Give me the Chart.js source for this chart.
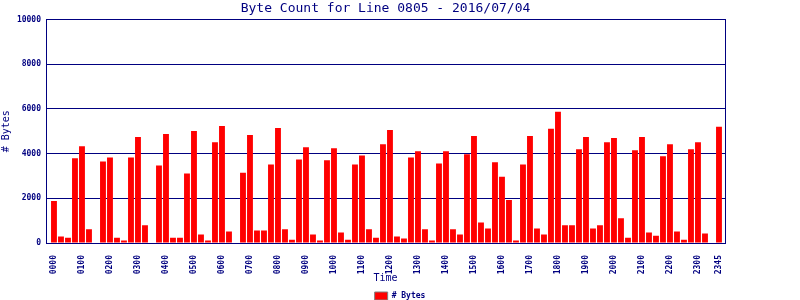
<!DOCTYPE html>
<html lang="en">
<head>
    <meta charset="UTF-8">
    <title>Byte Count for Line 0805</title>
    <script src="https://cdn.jsdelivr.net/npm/chart.js"></script>
    <style>
        body {
            margin: 0;
            background-color: #ffffff;
        }
    </style>
</head>
<body>
    <canvas id="graficoBytes" width="800" height="300"></canvas>

    <script>
// Time slots, every 15 minutes
const horas = [
    '0000', '0015', '0030', '0045', '0100', '0115', '0130', '0145',
    '0200', '0215', '0230', '0245', '0300', '0315', '0330', '0345',
    '0400', '0415', '0430', '0445', '0500', '0515', '0530', '0545',
    '0600', '0615', '0630', '0645', '0700', '0715', '0730', '0745',
    '0800', '0815', '0830', '0845', '0900', '0915', '0930', '0945',
    '1000', '1015', '1030', '1045', '1100', '1115', '1130', '1145',
    '1200', '1215', '1230', '1245', '1300', '1315', '1330', '1345',
    '1400', '1415', '1430', '1445', '1500', '1515', '1530', '1545',
    '1600', '1615', '1630', '1645', '1700', '1715', '1730', '1745',
    '1800', '1815', '1830', '1845', '1900', '1915', '1930', '1945',
    '2000', '2015', '2030', '2045', '2100', '2115', '2130', '2145',
    '2200', '2215', '2230', '2245', '2300', '2315', '2330', '2345'
];

// Bytes per slot
const bytes = [
    1880, 290, 240, 3790, 4330, 610, 0, 3650,
    3830, 240, 110, 3830, 4740, 790, 0, 3470,
    4880, 240, 240, 3110, 5010, 380, 110, 4510,
    5240, 520, 0, 3150, 4830, 560, 560, 3510,
    5150, 610, 150, 3740, 4290, 380, 110, 3700,
    4240, 470, 150, 3510, 3920, 610, 240, 4420,
    5060, 290, 200, 3830, 4110, 610, 110, 3560,
    4110, 610, 380, 3970, 4790, 920, 650, 3610,
    2970, 1920, 110, 3510, 4790, 650, 380, 5110,
    5880, 790, 790, 4200, 4740, 650, 790, 4510,
    4700, 1110, 240, 4150, 4740, 470, 330, 3880,
    4420, 520, 150, 4200, 4510, 420, 0, 5200
];

const yTicks = [0, 2000, 4000, 6000, 8000, 10000];

const azul = '#000080';
const fuenteMono = "'DejaVu Sans Mono', monospace";

// slot index -> bar, so the x axis can leave a little room at both ends
const puntos = bytes.map((v, i) => ({ x: i, y: v }));

// label only the full hours and the last slot
const xTicks = horas
    .map((h, i) => (h.endsWith('00') || i === horas.length - 1) ? i : -1)
    .filter(i => i >= 0);

new Chart(document.getElementById('graficoBytes'), {
    type: 'bar',
    data: {
        datasets: [{
            label: '# Bytes',
            data: puntos,
            backgroundColor: '#ff0000',
            borderWidth: 0,
            barPercentage: 0.84,
            categoryPercentage: 1.0
        }]
    },
    options: {
        responsive: false,
        animation: false,
        layout: {
            // legend box is taller than its text, let it hang past the bottom edge
            padding: { top: 0, bottom: -10, left: 0, right: 0 }
        },
        plugins: {
            title: {
                display: true,
                fullSize: false,
                text: 'Byte Count for Line 0805 - 2016/07/04',
                color: azul,
                font: { family: fuenteMono, size: 13, weight: 'normal' },
                padding: { top: 1, bottom: 3 }
            },
            legend: {
                position: 'bottom',
                labels: {
                    color: azul,
                    boxWidth: 13,
                    boxHeight: 8,
                    padding: 2,
                    font: { family: fuenteMono, size: 8, weight: 'bold' },
                    generateLabels: function () {
                        return [{
                            text: '# Bytes',
                            fillStyle: '#ff0000',
                            strokeStyle: '#808080',
                            lineWidth: 1,
                            fontColor: azul
                        }];
                    }
                }
            },
            tooltip: { enabled: false }
        },
        scales: {
            x: {
                type: 'linear',
                offset: false,
                min: -1.14,
                max: 95.86,
                afterBuildTicks: function (scale) {
                    scale.ticks = xTicks.map(v => ({ value: v }));
                },
                afterFit: function (scale) {
                    scale.height = 47;
                },
                grid: { display: false },
                border: { color: azul, width: 1 },
                ticks: {
                    color: azul,
                    autoSkip: false,
                    minRotation: 90,
                    maxRotation: 90,
                    padding: 4,
                    font: { family: fuenteMono, size: 8, weight: 'bold' },
                    callback: function (value) {
                        return horas[value];
                    }
                },
                title: {
                    display: true,
                    text: 'Time',
                    color: azul,
                    padding: { top: 0, bottom: 6 },
                    font: { family: fuenteMono, size: 10 }
                }
            },
            y: {
                min: 0,
                max: 10000,
                afterBuildTicks: function (scale) {
                    scale.ticks = yTicks.map(v => ({ value: v }));
                },
                afterFit: function (scale) {
                    scale.width = 46;
                },
                grid: { color: azul, lineWidth: 1, drawTicks: false },
                border: { color: azul, width: 1 },
                ticks: {
                    color: azul,
                    padding: 5,
                    font: { family: fuenteMono, size: 8, weight: 'bold' },
                    callback: function (value) {
                        return String(value);
                    }
                },
                title: {
                    display: true,
                    text: '# Bytes',
                    color: azul,
                    padding: { top: 0, bottom: 2 },
                    font: { family: fuenteMono, size: 10 }
                }
            },
            derecha: {
                position: 'right',
                min: 0,
                max: 10000,
                afterFit: function (scale) {
                    scale.width = 75;
                },
                grid: { display: false },
                border: { color: azul, width: 1 },
                ticks: { display: false }
            }
        }
    }
});
    </script>
</body>
</html>
